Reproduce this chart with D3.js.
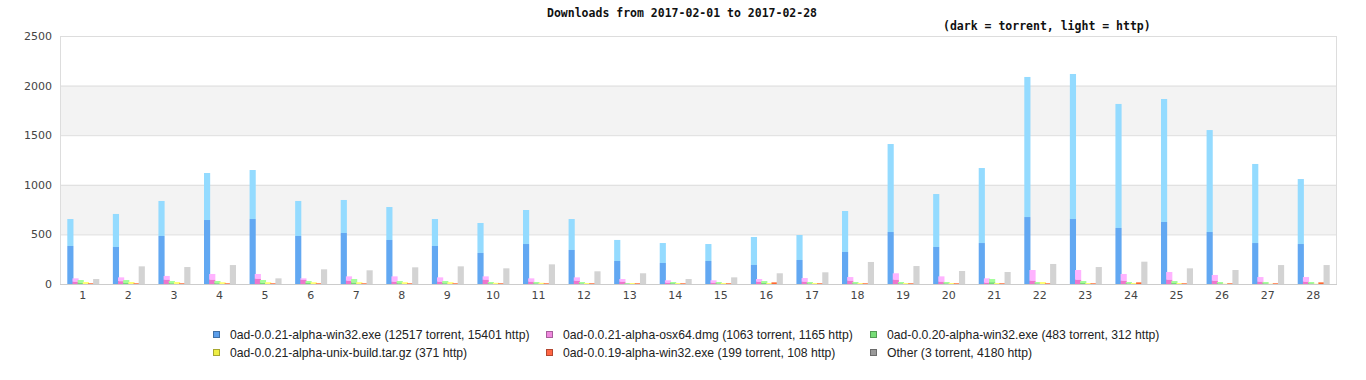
<!DOCTYPE html>
<html lang="en">
<head>
<meta charset="UTF-8">
<title>Downloads</title>
<script src="https://d3js.org/d3.v7.min.js"></script>
<style>
    body { margin: 0; background: #fff; }
    svg { display: block; }
    .title { font-family: "DejaVu Sans Mono", monospace; font-weight: bold; font-size: 11.5px; fill: #111; }
    .axis text { font-family: "DejaVu Sans", sans-serif; font-size: 11px; fill: #444; }
    .legend text { font-family: "Liberation Sans Narrow", "Liberation Sans", sans-serif; font-size: 12.2px; fill: #222; }
</style>
</head>
<body>
<svg width="1366" height="380"></svg>
<script>
const days = d3.range(1, 29).map(String);

const yTicks = [0, 500, 1000, 1500, 2000, 2500];

const seriesNames = [
    "0ad-0.0.21-alpha-win32.exe (12517 torrent, 15401 http)",
    "0ad-0.0.21-alpha-osx64.dmg (1063 torrent, 1165 http)",
    "0ad-0.0.20-alpha-win32.exe (483 torrent, 312 http)",
    "0ad-0.0.21-alpha-unix-build.tar.gz (371 http)",
    "0ad-0.0.19-alpha-win32.exe (199 torrent, 108 http)",
    "Other (3 torrent, 4180 http)"
];

// torrent (dark) and http (light) counts per day
const win21Torrent = [383,373,484,645,655,484,514,444,383,313,403,343,232,212,232,192,242,323,524,373,413,675,655,565,625,524,413,403];
const win21Http    = [272,333,353,474,494,353,333,332,272,302,343,312,212,201,171,282,252,413,887,534,756,1412,1462,1250,1240,1028,797,655];

const osxTorrent = [22,28,42,42,52,42,32,22,22,42,22,32,22,12,12,22,22,32,42,22,12,32,42,32,42,32,22,22];
const osxHttp    = [35,39,39,59,49,15,45,55,45,35,35,35,28,25,25,28,38,38,66,55,45,109,99,69,79,59,48,48];

const win20Torrent = [12,10,8,8,12,10,14,8,8,6,6,6,4,8,6,10,6,6,6,6,18,6,10,6,10,6,6,6];
const win20Http    = [28,30,22,22,28,20,36,22,22,14,14,14,6,12,14,20,14,14,14,14,32,14,20,14,20,14,14,14];

const unixTorrent = new Array(28).fill(0);
const unixHttp    = [20,20,20,18,18,18,18,18,18,12,12,10,10,10,10,10,10,10,10,10,10,20,10,10,10,3,3,3];

const win19Torrent = [6,6,6,6,6,6,6,6,6,6,6,6,6,6,6,14,6,6,6,6,6,6,6,14,6,6,6,14];
const win19Http    = [4,4,4,4,4,4,4,4,4,4,4,4,4,4,4,6,4,4,4,4,4,4,4,6,4,4,4,6];

const otherTorrent = new Array(28).fill(0);
const otherHttp    = [50,178,171,191,57,148,138,168,178,158,198,128,108,50,67,108,118,222,181,131,121,202,171,225,158,141,191,191];

const torrentSeries = [win21Torrent, osxTorrent, win20Torrent, unixTorrent, win19Torrent, otherTorrent];
const httpSeries = [win21Http, osxHttp, win20Http, unixHttp, win19Http, otherHttp];

const darkColors  = ["#62a8f2", "#ee77cc", "#77dd77", "#e8e84a", "#ff6633", "#a0a0a0"];
const lightColors = ["#94dbff", "#ffb3ff", "#a3ff99", "#ffff77", "#ff9966", "#d3d3d3"];
const legendColors = ["#5b9eea", "#ee88dd", "#77dd77", "#eeee44", "#ff6644", "#999999"];

const svg = d3.select("svg");
const plotLeft = 60, plotRight = 1336, plotTop = 36, plotBottom = 284;

const x = d3.scaleBand().domain(days).range([plotLeft, plotRight]).paddingInner(0.32).paddingOuter(0.16);
const inner = d3.scaleBand().domain(d3.range(6)).range([0, x.bandwidth()]);
const y = d3.scaleLinear().domain([0, 2500]).range([plotBottom, plotTop]);

// alternating bands
const bands = svg.append("g");
[[500, 1000], [1500, 2000]].forEach(([a, b]) => {
    bands.append("rect")
        .attr("x", plotLeft).attr("width", plotRight - plotLeft)
        .attr("y", y(b)).attr("height", y(a) - y(b))
        .attr("fill", "#f3f3f3");
});

// gridlines
svg.append("g").selectAll("line")
    .data(yTicks.slice(1))
    .join("line")
    .attr("x1", plotLeft).attr("x2", plotRight)
    .attr("y1", d => y(d) + 0.5).attr("y2", d => y(d) + 0.5)
    .attr("stroke", "#dddddd");

// frame
svg.append("line").attr("x1", plotLeft + 0.5).attr("x2", plotLeft + 0.5).attr("y1", plotTop).attr("y2", plotBottom).attr("stroke", "#dddddd");
svg.append("line").attr("x1", plotRight + 0.5).attr("x2", plotRight + 0.5).attr("y1", plotTop).attr("y2", plotBottom).attr("stroke", "#dddddd");

// bars
const groups = svg.append("g").selectAll("g")
    .data(days)
    .join("g")
    .attr("transform", d => `translate(${x(d)},0)`);

groups.each(function (day, i) {
    const g = d3.select(this);
    for (let s = 0; s < 6; s++) {
        const t = torrentSeries[s][i], h = httpSeries[s][i];
        const bx = inner(s), bw = inner.bandwidth() + 1;
        g.append("rect")
            .attr("x", bx).attr("width", bw)
            .attr("y", y(t + h)).attr("height", y(t) - y(t + h))
            .attr("fill", lightColors[s]);
        g.append("rect")
            .attr("x", bx).attr("width", bw)
            .attr("y", y(t)).attr("height", y(0) - y(t))
            .attr("fill", darkColors[s]);
    }
});

// baseline
svg.append("line").attr("x1", plotLeft).attr("x2", plotRight + 1).attr("y1", plotBottom + 0.5).attr("y2", plotBottom + 0.5).attr("stroke", "#cccccc");

// axes
const yAxis = svg.append("g").attr("class", "axis")
    .attr("transform", `translate(${plotLeft},0)`)
    .call(d3.axisLeft(y).tickValues(yTicks).tickFormat(d3.format("d")).tickSize(0).tickPadding(8));
yAxis.select(".domain").remove();

const xAxis = svg.append("g").attr("class", "axis")
    .attr("transform", `translate(0,${plotBottom})`)
    .call(d3.axisBottom(x).tickSize(0).tickPadding(7));
xAxis.select(".domain").remove();

// titles
svg.append("text").attr("class", "title").attr("x", 547).attr("y", 17).text("Downloads from 2017-02-01 to 2017-02-28");
svg.append("text").attr("class", "title").attr("x", 943).attr("y", 30).text("(dark = torrent, light = http)");

// legend
const legendX = [213, 546, 870];
const legendY = [335, 353];
const legend = svg.append("g").attr("class", "legend")
    .selectAll("g")
    .data(seriesNames)
    .join("g")
    .attr("transform", (d, i) => `translate(${legendX[i % 3]},${legendY[Math.floor(i / 3)]})`);
legend.append("rect")
    .attr("x", 0.5).attr("y", -3.5).attr("width", 6).attr("height", 6)
    .attr("fill", (d, i) => legendColors[i])
    .attr("stroke", (d, i) => d3.color(legendColors[i]).darker(1));
legend.append("text")
    .attr("x", 17).attr("y", 4)
    .text(d => d);
</script>
</body>
</html>
